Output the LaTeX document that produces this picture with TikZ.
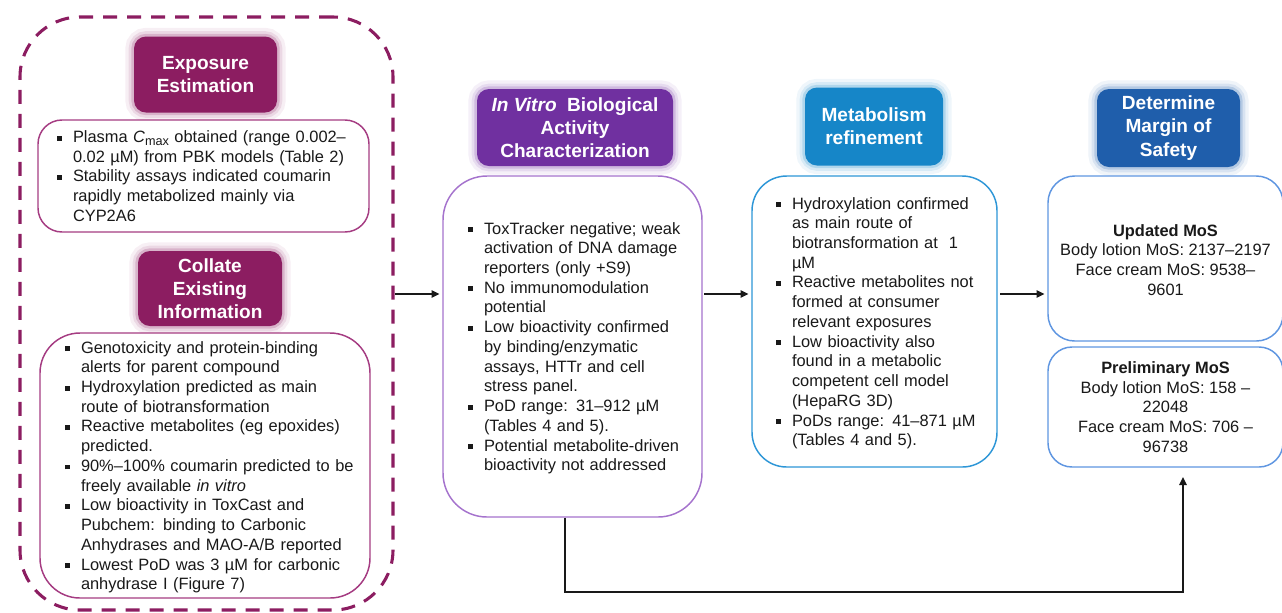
\documentclass[tikz,border=0pt]{standalone}
\usepackage{fontspec}
\setmainfont{Liberation Sans}
\usetikzlibrary{arrows.meta}
\definecolor{magC}{RGB}{140,29,97}
\definecolor{magL}{RGB}{165,60,130}
\definecolor{purC}{RGB}{112,48,160}
\definecolor{purL}{RGB}{165,115,205}
\definecolor{bluC}{RGB}{22,134,200}
\definecolor{bluL}{RGB}{45,150,215}
\definecolor{navC}{RGB}{31,94,171}
\definecolor{navL}{RGB}{95,150,225}
\definecolor{txt}{RGB}{25,25,25}
\newcommand{\bu}{\makebox[12pt][l]{\rule[0.12em]{0.3em}{0.3em}}}
\newcommand{\bodyfont}{\fontsize{12.3}{14.8}\selectfont}
\newcommand{\hdrfont}{\fontsize{14.3}{17.3}\selectfont\bfseries}
\newcommand{\lowerfix}{\par\vspace{-3pt}}
\begin{document}
\begin{tikzpicture}[x=0.75pt,y=-0.75pt,
  hdr/.style={rectangle, rounded corners=9pt, fill=#1, text=white, font=\hdrfont,
    align=center, inner sep=0pt,
    preaction={draw=#1, line width=13pt, opacity=0.07},
    preaction={draw=#1, line width=8pt, opacity=0.11},
    preaction={draw=#1, line width=4pt, opacity=0.2}},
  listbox/.style={rectangle, draw=#1, line width=1.1pt, fill=white, text=txt,
    font=\bodyfont, align=left, inner sep=0pt},
  mosbox/.style={rectangle, draw=navL, line width=1.1pt, fill=white, text=txt,
    font=\bodyfont, align=center, inner sep=0pt, rounded corners=20pt,
    minimum width=176.25pt},
  arr/.style={draw=black!90, line width=1.3pt, -{Triangle[length=6pt,width=5.5pt]}}]
\useasboundingbox (0,0) rectangle (1282,612);

% dashed group
\node[rectangle, draw=magC, line width=2.3pt, dash pattern=on 10.5pt off 7.5pt,
  rounded corners=45pt, minimum width=279.75pt, minimum height=444.75pt,
  inner sep=0pt] (group) at (206.5,313.5) {};

% Exposure estimation
\node[hdr=magC, minimum width=107.25pt, minimum height=57pt] (exp) at (205.5,74.5)
  {Exposure\\Estimation};
\node[listbox=magL, rounded corners=18pt, minimum width=248.25pt, minimum height=84pt,
  text width=219.75pt] (box1) at (203.5,176)
  {\noindent\begin{tabular}{@{}l@{}l@{}}
  \bu & Plasma \textit{C}\raisebox{-0.35ex}{\fontsize{9.5}{10}\selectfont max} obtained (range 0.002–\\
      & 0.02 µM) from PBK models (Table 2)\\
  \bu & Stability assays indicated coumarin\\
      & rapidly metabolized mainly via\\
      & CYP2A6
  \end{tabular}\lowerfix};

% Collate existing information
\node[hdr=magC, minimum width=108pt, minimum height=56.25pt] (coll) at (210,288.5)
  {Collate\\Existing\\Information};
\node[listbox=magL, rounded corners=30pt, minimum width=247.5pt, minimum height=198.75pt,
  text width=210pt] (box2) at (205,465.5)
  {\noindent\begin{tabular}{@{}l@{}l@{}}
  \bu & Genotoxicity and protein-binding\\
      & alerts for parent compound\\
  \bu & Hydroxylation predicted as main\\
      & route of biotransformation\\
  \bu & Reactive metabolites (eg epoxides)\\
      & predicted.\\
  \bu & 90\%–100\% coumarin predicted to be\\
      & freely available \textit{in vitro}\\
  \bu & Low bioactivity in ToxCast and\\
      & Pubchem: binding to Carbonic\\
      & Anhydrases and MAO-A/B reported\\
  \bu & Lowest PoD was 3 µM for carbonic\\
      & anhydrase I (Figure 7)
  \end{tabular}\lowerfix};

% In vitro
\node[hdr=purC, minimum width=147pt, minimum height=57.75pt] (ivh) at (575,127.5)
  {\textit{In Vitro}\ \ Biological\\Activity\\Characterization};
\node[listbox=purL, rounded corners=33pt, minimum width=194.25pt, minimum height=255.75pt,
  text width=156.75pt] (invitro) at (572.5,346.5)
  {\noindent\begin{tabular}{@{}l@{}l@{}}
  \bu & ToxTracker negative; weak\\
      & activation of DNA damage\\
      & reporters (only +S9)\\
  \bu & No immunomodulation\\
      & potential\\
  \bu & Low bioactivity confirmed\\
      & by binding/enzymatic\\
      & assays, HTTr and cell\\
      & stress panel.\\
  \bu & PoD range: 31–912 µM\\
      & (Tables 4 and 5).\\
  \bu & Potential metabolite-driven\\
      & bioactivity not addressed
  \end{tabular}\lowerfix};

% Metabolism refinement
\node[hdr=bluC, minimum width=103.5pt, minimum height=58.5pt] (meth) at (874,126.5)
  {Metabolism\\refinement};
\node[listbox=bluL, rounded corners=26pt, minimum width=183.75pt, minimum height=218.25pt,
  text width=147.75pt] (metab) at (874.5,321.5)
  {\noindent\begin{tabular}{@{}l@{}l@{}}
  \bu & Hydroxylation confirmed\\
      & as main route of\\
      & biotransformation at\ \ 1\\
      & µM\\
  \bu & Reactive metabolites not\\
      & formed at consumer\\
      & relevant exposures\\
  \bu & Low bioactivity also\\
      & found in a metabolic\\
      & competent cell model\\
      & (HepaRG 3D)\\
  \bu & PoDs range: 41–871 µM\\
      & (Tables 4 and 5).
  \end{tabular}\lowerfix};

% Margin of safety
\node[hdr=navC, minimum width=107.25pt, minimum height=58.5pt] (mosh) at (1168.5,128)
  {Determine\\Margin of\\Safety};
\node[mosbox, minimum height=123.75pt] (updated) at (1165.5,258.5)
  {\\[-4pt]\textbf{Updated MoS}\\Body lotion MoS: 2137–2197\\Face cream MoS: 9538–\\9601};
\node[mosbox, rounded corners=18pt, minimum height=90pt] (prelim) at (1165.5,407)
  {\textbf{Preliminary MoS}\\Body lotion MoS: 158 –\\22048\\Face cream MoS: 706 –\\96738};

% connectors
\coordinate (midy) at (0,294);
\draw[arr, shorten >=2pt] (group.east |- midy) -- (invitro.west |- midy);
\draw[arr, shorten <=1pt, shorten >=2pt] (invitro.east |- midy) -- (metab.west |- midy);
\draw[arr, shorten <=2pt, shorten >=2pt] (metab.east |- midy) -- (updated.west |- midy);
\coordinate (c1) at (565,592);
\coordinate (c2) at (1183,592);
\draw[arr, shorten >=7pt] (invitro.south -| c1) -- (c1) -- (c2) -- (prelim.south -| c2);
\end{tikzpicture}
\end{document}
